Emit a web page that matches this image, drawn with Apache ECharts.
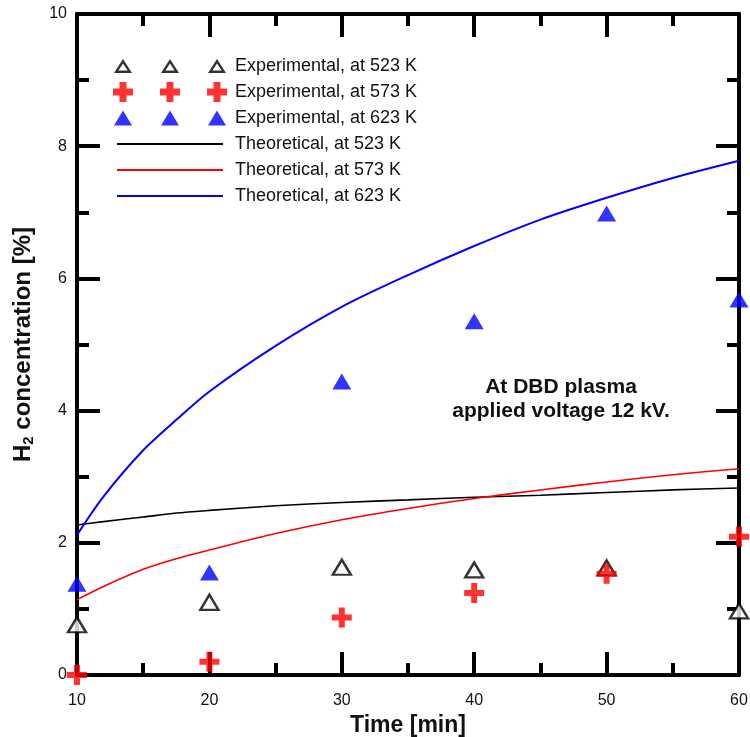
<!DOCTYPE html>
<html>
<head>
<meta charset="utf-8">
<script src="https://cdn.jsdelivr.net/npm/echarts@6/dist/echarts.min.js"></script>
<style>
  html, body { margin: 0; padding: 0; background: #fff; }
  #chart { width: 750px; height: 737px; }
</style>
</head>
<body>
<div id="chart"></div>
<script>
"use strict";

// experimental points
const timeMin = [10, 20, 30, 40, 50, 60];
const exp523 = [0.76, 1.1, 1.63, 1.59, 1.62, 0.97];
const exp573 = [0.0, 0.2, 0.87, 1.24, 1.53, 2.09];
const exp623 = [1.38, 1.55, 4.44, 5.35, 6.98, 5.68];

// theoretical curves
const theoTime = [10, 12, 15, 17.5, 20, 25, 30, 35, 40, 45, 50, 55, 60];
const theo523 = [2.27, 2.32, 2.39, 2.45, 2.49, 2.56, 2.61, 2.65, 2.69, 2.72, 2.76, 2.8, 2.83];
const theo573 = [1.14, 1.34, 1.6, 1.76, 1.89, 2.14, 2.35, 2.52, 2.67, 2.8, 2.92, 3.03, 3.12];
const theo623 = [2.12, 2.7, 3.4, 3.86, 4.29, 4.98, 5.57, 6.05, 6.49, 6.89, 7.22, 7.52, 7.78];

const names = [
  "Experimental, at 523 K",
  "Experimental, at 573 K",
  "Experimental, at 623 K",
  "Theoretical, at 523 K",
  "Theoretical, at 573 K",
  "Theoretical, at 623 K",
];

const FONT = "Arial, 'Liberation Sans', sans-serif";
const pairs = (xs, ys) => xs.map((x, i) => [x, ys[i]]);

const CROSS = "path://M7,0H13V7H20V13H13V20H7V13H0V7H7Z";

// legend icons live in a 114x20 box; the tiny corner specks pin the box size
const CORNERS = "M0,0L0.01,0L0,0.01Z M114,20L113.99,20L114,19.99Z ";
const ICON_CX = [10, 57, 104];
const openTri = (c) => `M${c},3L${c + 9},17L${c - 9},17Z M${c},7.4L${c - 4.6},14.6L${c + 4.6},14.6Z `;
const fullTri = (c) => `M${c},2.5L${c + 9},17.5L${c - 9},17.5Z `;
const plus = (c) => `M${c - 3.5},0H${c + 3.5}V6.5H${c + 10}V13.5H${c + 3.5}V20H${c - 3.5}V13.5H${c - 10}V6.5H${c - 3.5}Z `;
const openTriIcon = "path://" + CORNERS + ICON_CX.map(openTri).join("");
const fullTriIcon = "path://" + CORNERS + ICON_CX.map(fullTri).join("");
const crossIcon = "path://" + CORNERS + ICON_CX.map(plus).join("");
const lineIcon = "path://" + CORNERS + "M4,9H110V11H4Z";

function frameAxis(pos, min, max, interval, showLabel) {
  return {
    type: "value",
    position: pos,
    min, max, interval,
    axisLine: { show: true, onZero: false, lineStyle: { color: "#000", width: 4 } },
    axisTick: { show: true, inside: true, length: 23, lineStyle: { color: "#000", width: 4 } },
    minorTick: { show: true, splitNumber: 2, length: 12, lineStyle: { color: "#000", width: 4 } },
    splitLine: { show: false },
    axisLabel: { show: showLabel, color: "#111", fontSize: 16, fontFamily: FONT },
  };
}

const xBottom = frameAxis("bottom", 10, 60, 10, true);
xBottom.axisLabel.margin = 18;
xBottom.name = "Time [min]";
xBottom.nameLocation = "middle";
xBottom.nameGap = 36;
xBottom.nameTextStyle = { color: "#111", fontSize: 23, fontWeight: "bold", fontFamily: FONT };

const yLeft = frameAxis("left", 0, 10, 2, true);
yLeft.axisLabel.margin = 10;
yLeft.name = "{b|H}{s|2}{b| concentration [%]}";
yLeft.nameLocation = "middle";
yLeft.nameGap = 40;
yLeft.nameRotate = 90;
yLeft.nameTextStyle = {
  rich: {
    b: { color: "#111", fontSize: 24, fontWeight: "bold", fontFamily: FONT, lineHeight: 28 },
    s: { color: "#111", fontSize: 15, fontWeight: "bold", fontFamily: FONT, lineHeight: 28, padding: [12, 0, 0, 0] },
  },
};

const chart = echarts.init(document.getElementById("chart"));
chart.setOption({
  animation: false,
  backgroundColor: "#fff",
  grid: { left: 77, right: 11, top: 14, bottom: 62, containLabel: false, outerBoundsMode: "none" },
  xAxis: [xBottom, frameAxis("top", 10, 60, 10, false)],
  yAxis: [yLeft, frameAxis("right", 0, 10, 2, false)],
  legend: {
    orient: "vertical",
    left: 113,
    top: 56,
    itemWidth: 114,
    itemHeight: 20,
    itemGap: 6,
    padding: 0,
    textStyle: { color: "#111", fontSize: 18, fontFamily: FONT, lineHeight: 20, padding: [0, 0, 0, 3] },
    data: [
      { name: names[0], icon: openTriIcon, itemStyle: { color: "#000", borderWidth: 0 } },
      { name: names[1], icon: crossIcon, itemStyle: { color: "#ff0000", borderWidth: 0 } },
      { name: names[2], icon: fullTriIcon, itemStyle: { color: "#0000ff", borderWidth: 0 } },
      { name: names[3], icon: lineIcon, itemStyle: { color: "#000", borderWidth: 0 } },
      { name: names[4], icon: lineIcon, itemStyle: { color: "#ff0000", borderWidth: 0 } },
      { name: names[5], icon: lineIcon, itemStyle: { color: "#0000ff", borderWidth: 0 } },
    ],
  },
  graphic: [{
    type: "text",
    x: 561,
    y: 399,
    style: {
      text: "At DBD plasma\napplied voltage 12 kV.",
      font: "bold 21px " + FONT,
      fill: "#111",
      align: "center",
      verticalAlign: "middle",
      lineHeight: 24,
    },
  }],
  series: [
    {
      name: names[3], type: "line", data: pairs(theoTime, theo523), smooth: 0.3,
      symbol: "none", z: 1, lineStyle: { color: "#000", width: 1.6 }, itemStyle: { color: "#000" },
    },
    {
      name: names[4], type: "line", data: pairs(theoTime, theo573), smooth: 0.3,
      symbol: "none", z: 1, lineStyle: { color: "#ff0000", width: 1.6 }, itemStyle: { color: "#ff0000" },
    },
    {
      name: names[5], type: "line", data: pairs(theoTime, theo623), smooth: 0.3,
      symbol: "none", z: 1, lineStyle: { color: "#0000ff", width: 2 }, itemStyle: { color: "#0000ff" },
    },
    {
      name: names[0], type: "scatter", data: pairs(timeMin, exp523), clip: false,
      symbol: "triangle", symbolSize: [18, 15], z: 3,
      itemStyle: { color: "#fff", borderColor: "#000", borderWidth: 2.4 },
    },
    {
      name: names[1], type: "scatter", data: pairs(timeMin, exp573), clip: false,
      symbol: CROSS, symbolSize: 20, z: 4,
      itemStyle: { color: "#ff0000" },
    },
    {
      name: names[2], type: "scatter", data: pairs(timeMin, exp623), clip: false,
      symbol: "triangle", symbolSize: [19, 16], z: 5,
      itemStyle: { color: "#0000ff" },
    },
  ],
});
</script>
</body>
</html>
